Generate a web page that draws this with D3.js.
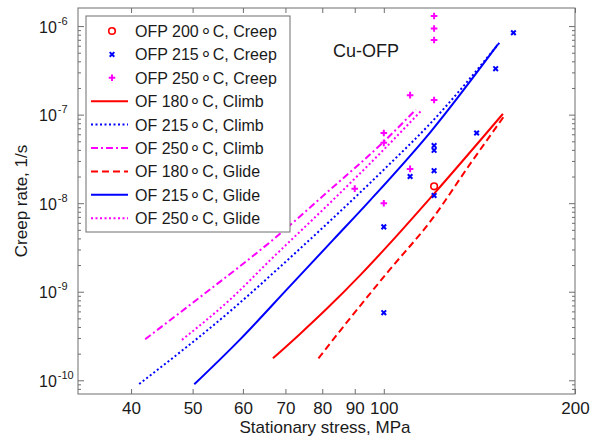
<!DOCTYPE html>
<html><head><meta charset="utf-8">
<script src="https://cdn.jsdelivr.net/npm/d3@7"></script>
<style>
body{margin:0;background:#fff;}
text{font-family:"Liberation Sans",Arial,sans-serif;fill:#1a1a1a;}
</style></head>
<body><svg id="c" width="602" height="440"></svg>
<script>
// ---- data (stress in MPa, creep rate in 1/s) ----
const xTicks = [40, 50, 60, 70, 80, 90, 100, 200];
const yMajor = [1e-10, 1e-9, 1e-8, 1e-7, 1e-6];
const yExponents = ["-10", "-9", "-8", "-7", "-6"];

const ofp200Stress = [120];
const ofp200Rate   = [1.55e-8];
const ofp215Stress = [100, 100, 110, 120, 120, 120, 120, 140, 150, 160];
const ofp215Rate   = [5.8e-10, 5.4e-9, 2.0e-8, 1.22e-8, 2.33e-8, 3.95e-8, 4.47e-8, 6.2e-8, 3.3e-7, 8.4e-7];
const ofp250Stress = [90, 100, 100, 100, 110, 110, 120, 120, 120, 120];
const ofp250Rate   = [1.46e-8, 1.0e-8, 4.8e-8, 6.2e-8, 2.44e-8, 1.66e-7, 1.46e-7, 6.95e-7, 9.4e-7, 1.30e-6];

const climb180Stress = [66.9, 73.8, 81.3, 91.9, 101.2, 120, 154];
const climb180Rate   = [1.77e-10, 3.34e-10, 6.41e-10, 1.55e-9, 3.25e-9, 1.28e-8, 1.02e-7];
const climb215Stress = [41.2, 57.2, 71.1, 100, 118.6, 152.1];
const climb215Rate   = [9.08e-11, 5.97e-10, 2.4e-9, 2.39e-8, 8.07e-8, 6.49e-7];
const climb250Stress = [42.1, 51.2, 66.9, 82.3, 100, 112.3];
const climb250Rate   = [2.91e-10, 8.53e-10, 3.87e-9, 1.42e-8, 4.96e-8, 1.14e-7];
const glide180Stress = [78.9, 88.6, 101.8, 118.6, 137.2, 155.3];
const glide180Rate   = [1.77e-10, 5.07e-10, 1.72e-9, 6.34e-9, 2.87e-8, 1.0e-7];
const glide215Stress = [50.3, 59.3, 71.1, 83.3, 95.3, 118.6, 151.2];
const glide215Rate   = [9.0e-11, 2.86e-10, 1.15e-9, 3.87e-9, 1.09e-8, 6.44e-8, 6.21e-7];
const glide250Stress = [48.1, 57.2, 66.6, 82.3, 100, 114.3];
const glide250Rate   = [2.86e-10, 8.09e-10, 2.36e-9, 1.01e-8, 4.03e-8, 1.09e-7];

const legendLabels = [
  ["OFP 200", "C, Creep"], ["OFP 215", "C, Creep"], ["OFP 250", "C, Creep"],
  ["OF 180", "C, Climb"], ["OF 215", "C, Climb"], ["OF 250", "C, Climb"],
  ["OF 180", "C, Glide"], ["OF 215", "C, Glide"], ["OF 250", "C, Glide"]
];

// ---- layout ----
const L = 78, R = 575, T = 8, B = 394;
const svg = d3.select("#c");
const x = d3.scaleLog().domain([33, 200]).range([L, R]);
const y = d3.scaleLog().domain([7e-11, 1.6e-6]).range([B, T]);

const RED = "#ff0000", BLUE = "#0000ff", MAG = "#ff00ff";
const AX = "#6e6e6e";

// minor y ticks
const yMinor = [];
for (let e = -11; e <= -6; e++) for (let k = 2; k <= 9; k++) {
  const v = k * Math.pow(10, e);
  if (v >= 7e-11 && v <= 1.6e-6) yMinor.push(v);
}

function styleAxis(g) {
  g.select(".domain").remove();
  g.selectAll(".tick line").attr("stroke", AX).attr("stroke-width", 1);
}
svg.append("g").attr("transform", `translate(${L},0)`)
  .call(d3.axisLeft(y).tickValues(yMinor).tickSize(-3).tickFormat("")).call(styleAxis);
svg.append("g").attr("transform", `translate(${R},0)`)
  .call(d3.axisRight(y).tickValues(yMinor).tickSize(-3).tickFormat("")).call(styleAxis);
const yAxL = svg.append("g").attr("transform", `translate(${L},0)`)
  .call(d3.axisLeft(y).tickValues(yMajor).tickSize(-6).tickFormat("")).call(styleAxis);
svg.append("g").attr("transform", `translate(${R},0)`)
  .call(d3.axisRight(y).tickValues(yMajor).tickSize(-6).tickFormat("")).call(styleAxis);

// y labels 10^n
yAxL.selectAll(".tick").each(function(d) {
  const t = d3.select(this).append("text")
    .attr("x", 39 - L).attr("y", 6).attr("text-anchor", "start")
    .style("font-size", "16px");
  t.append("tspan").text("10");
  t.append("tspan").attr("dx", 1).attr("dy", -8).style("font-size", "11px").text(yExponents[yMajor.indexOf(d)]);
});

const xAxB = svg.append("g").attr("transform", `translate(0,${B})`)
  .call(d3.axisBottom(x).tickValues(xTicks).tickSize(-5).tickPadding(8).tickFormat(d3.format("d")))
  .call(styleAxis);
xAxB.selectAll("text").style("font-size", "17px").attr("fill", "#1a1a1a");
svg.append("g").attr("transform", `translate(0,${T})`)
  .call(d3.axisTop(x).tickValues(xTicks).tickSize(-5).tickFormat("")).call(styleAxis);

// frame
svg.append("rect").attr("x", L).attr("y", T).attr("width", R - L).attr("height", B - T)
  .attr("fill", "none").attr("stroke", AX).attr("stroke-width", 1);

// clip
svg.append("clipPath").attr("id", "clip").append("rect")
  .attr("x", L).attr("y", T).attr("width", R - L).attr("height", B - T);
const plot = svg.append("g").attr("clip-path", "url(#clip)");

const lineGen = d3.line().x(d => x(d[0])).y(d => y(d[1])).curve(d3.curveMonotoneX);
const series = [
  {s: climb180Stress, r: climb180Rate, c: RED,  dash: null},
  {s: climb215Stress, r: climb215Rate, c: BLUE, dash: "2,2.5"},
  {s: climb250Stress, r: climb250Rate, c: MAG,  dash: "7,3,2,3"},
  {s: glide180Stress, r: glide180Rate, c: RED,  dash: "7,4"},
  {s: glide215Stress, r: glide215Rate, c: BLUE, dash: null},
  {s: glide250Stress, r: glide250Rate, c: MAG,  dash: "2,2.5"}
];
series.forEach(o => {
  plot.append("path").datum(o.s.map((v, i) => [v, o.r[i]]))
    .attr("d", lineGen).attr("fill", "none").attr("stroke", o.c)
    .attr("stroke-width", 2).attr("stroke-dasharray", o.dash);
});

// markers
function drawCircle(g, cx, cy) {
  g.append("circle").attr("cx", cx).attr("cy", cy).attr("r", 3.3)
    .attr("fill", "none").attr("stroke", RED).attr("stroke-width", 1.6);
}
function drawX(g, cx, cy) {
  const h = 2.3;
  g.append("path").attr("d", `M${cx-h},${cy-h}L${cx+h},${cy+h}M${cx-h},${cy+h}L${cx+h},${cy-h}`)
    .attr("stroke", BLUE).attr("stroke-width", 2);
}
function drawPlus(g, cx, cy) {
  const h = 3.3;
  g.append("path").attr("d", `M${cx-h},${cy}L${cx+h},${cy}M${cx},${cy-h}L${cx},${cy+h}`)
    .attr("stroke", MAG).attr("stroke-width", 2);
}
ofp250Stress.forEach((s, i) => drawPlus(plot, x(s), y(ofp250Rate[i])));
ofp215Stress.forEach((s, i) => drawX(plot, x(s), y(ofp215Rate[i])));
ofp200Stress.forEach((s, i) => drawCircle(plot, x(s), y(ofp200Rate[i])));

// Cu-OFP annotation
svg.append("text").attr("x", 333).attr("y", 57).style("font-size", "18px").text("Cu-OFP");

// legend
const lg = svg.append("g");
lg.append("rect").attr("x", 86).attr("y", 16).attr("width", 204).attr("height", 216)
  .attr("fill", "#fff").attr("stroke", AX).attr("stroke-width", 1);
const legendStyle = [
  {m: "o"}, {m: "x"}, {m: "+"},
  {c: RED, dash: null}, {c: BLUE, dash: "2,2.5"}, {c: MAG, dash: "7,3,2,3"},
  {c: RED, dash: "7,4"}, {c: BLUE, dash: null}, {c: MAG, dash: "2,2.5"}
];
legendLabels.forEach((lab, i) => {
  const cy = 31 + i * 23.4;
  const st = legendStyle[i];
  if (st.m === "o") drawCircle(lg, 112, cy);
  else if (st.m === "x") drawX(lg, 112, cy);
  else if (st.m === "+") drawPlus(lg, 112, cy);
  else lg.append("line").attr("x1", 91).attr("x2", 128).attr("y1", cy).attr("y2", cy)
    .attr("stroke", st.c).attr("stroke-width", 2).attr("stroke-dasharray", st.dash);
  const t = lg.append("text").attr("x", 135).attr("y", cy + 6).style("font-size", "16px");
  t.append("tspan").text(lab[0]);
  t.append("tspan").attr("dx", 1).style("font-size", "19px").text("\u2218");
  t.append("tspan").attr("dx", 1).text(lab[1]);
});

// axis titles
svg.append("text").attr("x", 325).attr("y", 433).attr("text-anchor", "middle")
  .style("font-size", "17px").text("Stationary stress, MPa");
svg.append("text").attr("transform", "translate(27,201) rotate(-90)").attr("text-anchor", "middle")
  .style("font-size", "17px").text("Creep rate, 1/s");
</script></body></html>
